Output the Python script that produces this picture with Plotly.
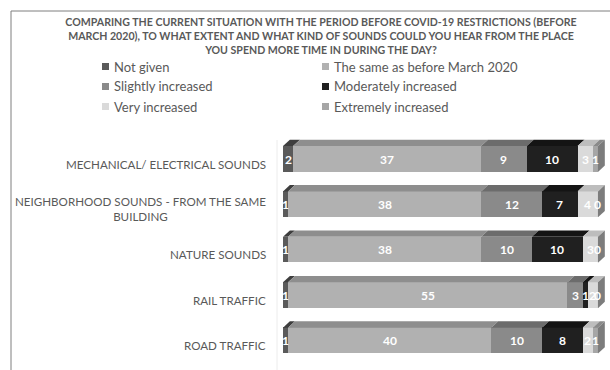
import plotly.graph_objects as go

# ---- data -------------------------------------------------------------
categories = [
    "MECHANICAL/ ELECTRICAL SOUNDS",
    "NEIGHBORHOOD SOUNDS - FROM THE SAME<br>BUILDING",
    "NATURE SOUNDS",
    "RAIL TRAFFIC",
    "ROAD TRAFFIC",
]
series_names = [
    "Not given",
    "The same as before March 2020",
    "Slightly increased",
    "Moderately increased",
    "Very increased",
    "Extremely increased",
]
not_given = [2, 1, 1, 1, 1]
same_as_before = [37, 38, 38, 55, 40]
slightly_increased = [9, 12, 10, 3, 10]
moderately_increased = [10, 7, 10, 1, 8]
very_increased = [3, 4, 3, 2, 2]
extremely_increased = [1, 0, 0, 0, 1]

series_values = [not_given, same_as_before, slightly_increased,
                 moderately_increased, very_increased, extremely_increased]

# ---- styling ----------------------------------------------------------
W, H = 610, 370
front_colors = ["#5a5a5a", "#b1b1b1", "#8a8a8a", "#202020", "#dadada", "#a6a6a6"]
top_colors = ["#3e3e3e", "#8e8e8e", "#6c6c6c", "#141414", "#bdbdbd", "#8a8a8a"]
side_color = "#7c7c7c"
text_gray = "#595959"
FONT = "Lato"

bar_width = 0.57          # in category units
depth_x = 1.35            # depth offset along value axis
depth_y = 0.14            # depth offset along category axis

y_pos = list(range(len(categories) - 1, -1, -1))   # first category on top

fig = go.Figure()

# front faces
for name, vals, col in zip(series_names, series_values, front_colors):
    fig.add_trace(go.Bar(
        orientation="h", x=vals, y=y_pos, width=bar_width,
        marker=dict(color=col, line=dict(width=0)),
        name=name, showlegend=False, hoverinfo="x+name",
    ))

shapes = []
annotations = []
for i, y in enumerate(y_pos):
    yt = y + bar_width / 2
    yb = y - bar_width / 2
    cum = 0
    for s, vals in enumerate(series_values):
        v = vals[i]
        x0, x1 = cum, cum + v
        if v > 0:
            # top face of the segment
            shapes.append(dict(
                type="path", xref="x", yref="y", layer="above",
                path=f"M{x0},{yt} L{x1},{yt} L{x1 + depth_x},{yt + depth_y} "
                     f"L{x0 + depth_x},{yt + depth_y} Z",
                fillcolor=top_colors[s], line=dict(width=0),
            ))
        annotations.append(dict(
            x=x0 + v / 2, y=y, xref="x", yref="y", text=str(v),
            showarrow=False, font=dict(family=FONT, size=12, color="white",
                                       weight="bold"),
        ))
        cum = x1
    # right-hand end face
    shapes.append(dict(
        type="path", xref="x", yref="y", layer="above",
        path=f"M{cum},{yb} L{cum},{yt} L{cum + depth_x},{yt + depth_y} "
             f"L{cum + depth_x},{yb + depth_y} Z",
        fillcolor=side_color, line=dict(width=0),
    ))
    # category label
    annotations.append(dict(
        x=268 / W, y=y, xref="paper", yref="y", text=categories[i],
        xanchor="right", yanchor="middle", align="center", yshift=-5,
        showarrow=False, font=dict(family=FONT, size=11.6, color=text_gray),
    ))

# legend: two columns of square swatches with labels
legend_cols_px = [102, 322]
legend_rows_px = [66.5, 86.5, 106.5]
swatch = 7
for k, (name, col) in enumerate(zip(series_names, front_colors)):
    cx = legend_cols_px[k % 2]
    cy = legend_rows_px[k // 2]
    shapes.append(dict(
        type="rect", xref="paper", yref="paper",
        x0=cx / W, x1=(cx + swatch) / W,
        y0=1 - (cy + swatch / 2) / H, y1=1 - (cy - swatch / 2) / H,
        fillcolor=col, line=dict(width=0),
    ))
    annotations.append(dict(
        x=(cx + swatch + 3) / W, y=1 - cy / H, xref="paper", yref="paper",
        text=name, xanchor="left", yanchor="middle", showarrow=False,
        font=dict(family=FONT, size=13, color=text_gray),
    ))

# chart frame and faint back wall
shapes += [
    dict(type="line", xref="paper", yref="paper", x0=11 / W, x1=11 / W,
         y0=0, y1=1 - 11 / H, line=dict(color="#7f7f7f", width=1)),
    dict(type="line", xref="paper", yref="paper", x0=11 / W, x1=1,
         y0=1 - 11 / H, y1=1 - 11 / H, line=dict(color="#7f7f7f", width=1)),
    dict(type="line", xref="paper", yref="paper", x0=277 / W, x1=277 / W,
         y0=1 - 140 / H, y1=0, line=dict(color="#ececec", width=1)),
]

# y axis: category centres spaced ~45.4 px, top one at y=159 px
px_per_cat = 45.4
y_top_px = 159 - 0.5 * px_per_cat
y_bot_px = 159 + (len(categories) - 0.5) * px_per_cat

fig.update_layout(
    width=W, height=H, margin=dict(l=0, r=0, t=0, b=0),
    paper_bgcolor="white", plot_bgcolor="white",
    barmode="stack", bargap=0, showlegend=False,
    font=dict(family=FONT, color=text_gray),
    title=dict(
        text="COMPARING THE CURRENT SITUATION WITH THE PERIOD BEFORE COVID-19 RESTRICTIONS (BEFORE<br>"
             "MARCH 2020), TO WHAT EXTENT AND WHAT KIND OF SOUNDS COULD YOU HEAR FROM THE PLACE<br>"
             "YOU SPEND MORE TIME IN DURING THE DAY?",
        x=321 / W, xanchor="center", y=1 - 26 / H, yanchor="top",
        font=dict(family=FONT, size=10.6, color=text_gray, weight="bold"),
    ),
    xaxis=dict(range=[0, 64], domain=[283 / W, (283 + 64 * 5.08) / W],
               visible=False, fixedrange=True),
    yaxis=dict(range=[-0.5, len(categories) - 0.5],
               domain=[1 - y_bot_px / H, 1 - y_top_px / H],
               visible=False, fixedrange=True),
    shapes=shapes, annotations=annotations,
)

fig.write_html("out.html")
